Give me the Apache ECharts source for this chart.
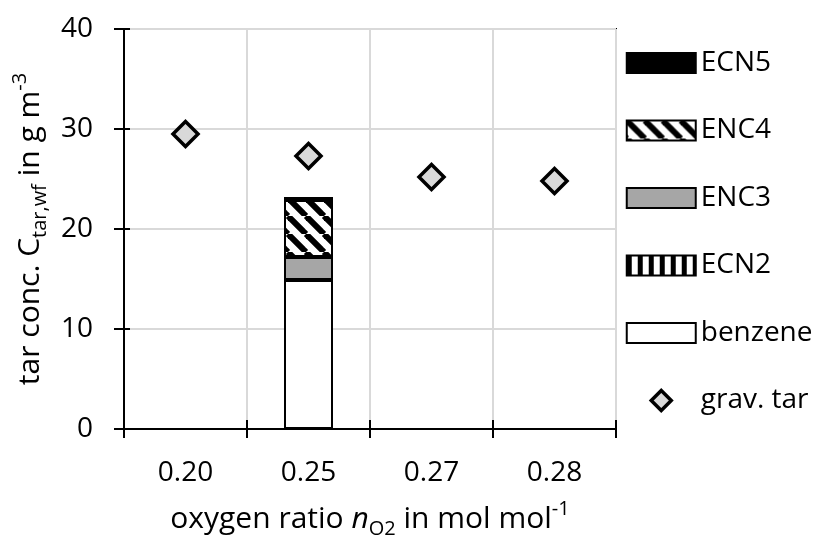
<!DOCTYPE html>
<html>
<head>
<meta charset="utf-8">
<script src="https://cdn.jsdelivr.net/npm/echarts@6/dist/echarts.min.js"></script>
<style>html,body{margin:0;padding:0;background:#fff}#c{width:821px;height:535px}</style>
</head>
<body>
<div id="c"></div>
<script>
// ---- data ----
const categories = ['0.20', '0.25', '0.27', '0.28'];
const benzene = [null, 14.9, null, null];
const ecn2 = [null, 0, null, null];
const enc3 = [null, 2.3, null, null];
const enc4 = [null, 5.7, null, null];
const ecn5 = [null, 0.3, null, null];
const gravTar = [29.5, 27.3, 25.2, 24.8];
const yTicks = { min: 0, max: 40, interval: 10 };
const legendNames = ['ECN5', 'ENC4', 'ENC3', 'ECN2', 'benzene', 'grav. tar'];

// ---- patterns ----
function diagPattern() {
  const P = 18;
  const c = document.createElement('canvas'); c.width = P; c.height = P;
  const g = c.getContext('2d');
  g.fillStyle = '#fff'; g.fillRect(0, 0, P, P);
  g.strokeStyle = '#000'; g.lineWidth = 6;
  [-P, 0, P].forEach(o => { g.beginPath(); g.moveTo(o, 0); g.lineTo(o + P, P); g.stroke(); });
  return { image: c, repeat: 'repeat' };
}
function vertPattern() {
  const c = document.createElement('canvas'); c.width = 11; c.height = 10;
  const g = c.getContext('2d');
  g.fillStyle = '#fff'; g.fillRect(0, 0, 11, 10);
  g.fillStyle = '#000'; g.fillRect(0, 0, 5, 10);
  return { image: c, repeat: 'repeat' };
}

const FONT = 'Open Sans';
const FS = 28;
const NFS = 30;
const SFS = 20;
const barBorder = { borderColor: '#000', borderWidth: 2, opacity: 1 };
const nameRich = {
  a: { fontSize: NFS, fontFamily: FONT, color: '#000', lineHeight: 40 },
  i: { fontSize: NFS, fontFamily: FONT, fontStyle: 'italic', color: '#000', lineHeight: 40 },
  b: { fontSize: SFS, fontFamily: FONT, color: '#000', verticalAlign: 'bottom', lineHeight: 20 },
  c: { fontSize: SFS, fontFamily: FONT, color: '#000', verticalAlign: 'top', lineHeight: 20 }
};
// diamond legend icon whose bounding box matches the 69x20 legend item, so it is not stretched
const legendDiamond = 'path://M-34.5,-10M34.5,10M0,-10L10,0L0,10L-10,0Z';

const chart = echarts.init(document.getElementById('c'), null, { renderer: 'canvas' });
chart.setOption({
  animation: false,
  backgroundColor: '#fff',
  textStyle: { fontFamily: FONT, color: '#000' },
  grid: { left: 124, right: 205, top: 29, bottom: 106, outerBoundsMode: 'none', containLabel: false,
    show: true, borderColor: '#000', borderWidth: 2, backgroundColor: 'transparent' },
  legend: {
    orient: 'vertical', left: 625, top: 49, padding: 0,
    itemWidth: 69, itemHeight: 20, itemGap: 39.5,
    textStyle: { fontFamily: FONT, fontSize: FS, color: '#000' },
    data: legendNames.map(n => n === 'grav. tar'
      ? { name: n, icon: legendDiamond, itemStyle: { borderWidth: 3.5, opacity: 1 } }
      : { name: n, icon: 'rect' })
  },
  xAxis: [{
    type: 'category', data: categories, position: 'bottom',
    axisLine: { show: true, lineStyle: { color: '#000', width: 2 } },
    axisTick: { show: true, length: 9, lineStyle: { color: '#000', width: 2 } },
    axisLabel: { margin: 30, fontSize: FS, color: '#000', fontFamily: FONT },
    splitLine: { show: true, lineStyle: { color: '#d9d9d9', width: 2 } },
    name: '{a|oxygen ratio }{i|n}{b|O2}{a| in mol mol}{c|-1}',
    nameLocation: 'middle', nameGap: 70,
    nameTextStyle: { rich: nameRich }
  }, {
    type: 'category', data: categories, position: 'bottom',
    axisLine: { show: false },
    axisTick: { show: true, inside: true, length: 9, lineStyle: { color: '#000', width: 2 } },
    axisLabel: { show: false },
    splitLine: { show: false }
  }],
  yAxis: [{
    type: 'value', min: yTicks.min, max: yTicks.max, interval: yTicks.interval, position: 'left',
    axisLine: { show: true, lineStyle: { color: '#000', width: 2 } },
    axisTick: { show: true, length: 10, lineStyle: { color: '#000', width: 2 } },
    axisLabel: { margin: 31, fontSize: FS, color: '#000', fontFamily: FONT },
    splitLine: { show: true, lineStyle: { color: '#d9d9d9', width: 2 } },
    name: '{a|tar conc. C}{b|tar,wf}{a| in g m}{c|-3}',
    nameLocation: 'middle', nameGap: 70,
    nameTextStyle: { rich: nameRich }
  }, {
    type: 'value', min: yTicks.min, max: yTicks.max, interval: yTicks.interval, position: 'left',
    axisLine: { show: false },
    axisTick: { show: true, inside: true, length: 6, lineStyle: { color: '#000', width: 2 } },
    axisLabel: { show: false },
    splitLine: { show: false }
  }],
  series: [
    { name: 'benzene', type: 'bar', stack: 'tar', barWidth: 49, data: benzene, itemStyle: Object.assign({ color: '#fff' }, barBorder) },
    { name: 'ECN2', type: 'bar', stack: 'tar', barWidth: 49, data: ecn2, itemStyle: Object.assign({ color: vertPattern() }, barBorder) },
    { name: 'ENC3', type: 'bar', stack: 'tar', barWidth: 49, data: enc3, itemStyle: Object.assign({ color: '#a6a6a6' }, barBorder) },
    { name: 'ENC4', type: 'bar', stack: 'tar', barWidth: 49, data: enc4, itemStyle: Object.assign({ color: diagPattern() }, barBorder) },
    { name: 'ECN5', type: 'bar', stack: 'tar', barWidth: 49, data: ecn5, itemStyle: Object.assign({ color: '#000' }, barBorder) },
    { name: 'grav. tar', type: 'scatter', symbol: 'diamond', symbolSize: 25, symbolKeepAspect: true, data: gravTar, z: 5,
      itemStyle: { color: '#d9d9d9', borderColor: '#000', borderWidth: 3.5, opacity: 1 } }
  ]
});
</script>
</body>
</html>
